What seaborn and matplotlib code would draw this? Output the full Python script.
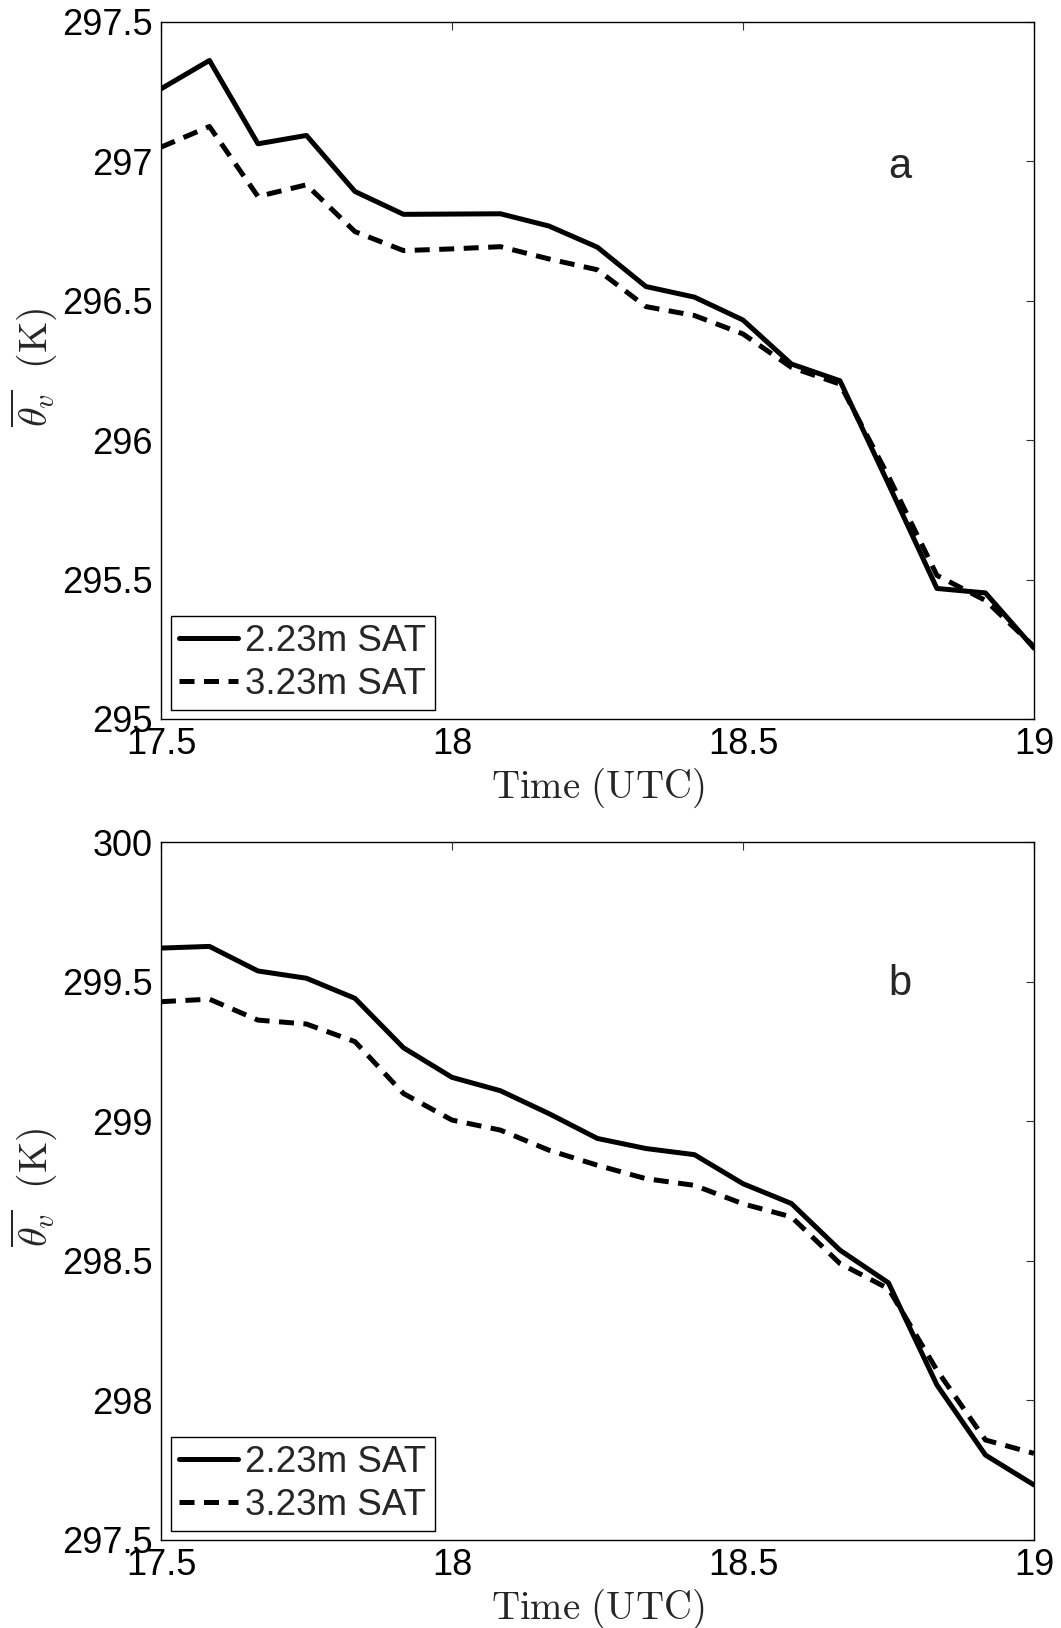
import numpy as np
import pandas as pd
import seaborn as sns
import matplotlib.pyplot as plt
from matplotlib.ticker import FuncFormatter

# time axis (UTC hours, 5-min steps)
times = [17.5, 17.5833, 17.6667, 17.75, 17.8333, 17.9167, 18.0, 18.0833, 18.1667, 18.25,
         18.3333, 18.4167, 18.5, 18.5833, 18.6667, 18.75, 18.8333, 18.9167, 19.0]

# panel a
a_sat223 = [297.260, 297.362, 297.063, 297.093, 296.892, 296.810, 296.811, 296.812, 296.768, 296.692,
            296.551, 296.513, 296.431, 296.273, 296.213, 295.843, 295.468, 295.452, 295.254]
a_sat323 = [297.051, 297.125, 296.874, 296.916, 296.748, 296.680, 296.686, 296.694, 296.650, 296.611,
            296.479, 296.447, 296.381, 296.261, 296.201, 295.870, 295.515, 295.425, 295.260]

# panel b
b_sat223 = [299.620, 299.626, 299.538, 299.512, 299.440, 299.263, 299.157, 299.109, 299.027, 298.938,
            298.902, 298.880, 298.776, 298.705, 298.538, 298.421, 298.055, 297.804, 297.697]
b_sat323 = [299.428, 299.437, 299.362, 299.348, 299.285, 299.099, 299.004, 298.968, 298.896, 298.842,
            298.794, 298.770, 298.704, 298.657, 298.490, 298.400, 298.108, 297.858, 297.810]

series_names = ["2.23m SAT", "3.23m SAT"]
panel_labels = ["a", "b"]
ylims = [(295, 297.5), (297.5, 300)]
label_y = [296.98, 299.49]

sns.set_theme(style="white")
plt.rcParams['font.family'] = ['Liberation Sans', 'DejaVu Sans']
plt.rcParams['mathtext.fontset'] = 'cm'

fig = plt.figure(figsize=(10.61, 16.28), dpi=100)
ax_a = fig.add_axes([0.1517, 0.5584, 0.8228, 0.4281])
ax_b = fig.add_axes([0.1517, 0.0541, 0.8228, 0.4287])

lw = 3.6
dash = (0, (3.0, 1.9))

for ax, s1, s2, lab, ylim, ly in zip([ax_a, ax_b], [a_sat223, b_sat223], [a_sat323, b_sat323],
                                     panel_labels, ylims, label_y):
    df1 = pd.DataFrame({"time": times, "theta": s1})
    df2 = pd.DataFrame({"time": times, "theta": s2})
    sns.lineplot(data=df1, x="time", y="theta", ax=ax, color="black", linewidth=lw,
                 label=series_names[0], errorbar=None)
    sns.lineplot(data=df2, x="time", y="theta", ax=ax, color="black", linewidth=lw,
                 linestyle=dash, label=series_names[1], errorbar=None)

    ax.set_xlim(17.5, 19)
    ax.set_ylim(*ylim)
    ax.set_xticks([17.5, 18, 18.5, 19])
    ax.set_yticks(np.arange(ylim[0], ylim[1] + 0.01, 0.5))
    fmt = FuncFormatter(lambda v, p: f"{v:g}")
    ax.xaxis.set_major_formatter(fmt)
    ax.yaxis.set_major_formatter(fmt)
    ax.tick_params(direction="in", length=5.5, width=0.8, color="#333333",
                   labelsize=26, top=True, right=True, labelcolor="black")
    ax.tick_params(axis="x", pad=6)
    ax.tick_params(axis="y", pad=6)
    for sp in ax.spines.values():
        sp.set_color("black")
        sp.set_linewidth(1.0)

    ax.set_xlabel(r"$\mathrm{Time\ (UTC)}$", fontsize=28, va="center")
    ax.xaxis.set_label_coords(0.5, -69 / 697)
    ax.set_ylabel(r"$\overline{\theta_v}\ \ (\mathrm{K})$", fontsize=29, va="center")
    ax.yaxis.set_label_coords(-127 / 873, 0.505)

    ax.text(18.75, ly, lab, fontsize=30, ha="left", va="center")

    leg = ax.legend(loc="lower left", bbox_to_anchor=(10 / 873, 9 / 697), borderaxespad=0,
                    fontsize=26.5, handlelength=1.6, handletextpad=0.2, labelspacing=0.22,
                    borderpad=0.22, fancybox=False, framealpha=1, edgecolor="black")
    leg.get_frame().set_linewidth(1.0)

fig.savefig("out.png", dpi=100)
